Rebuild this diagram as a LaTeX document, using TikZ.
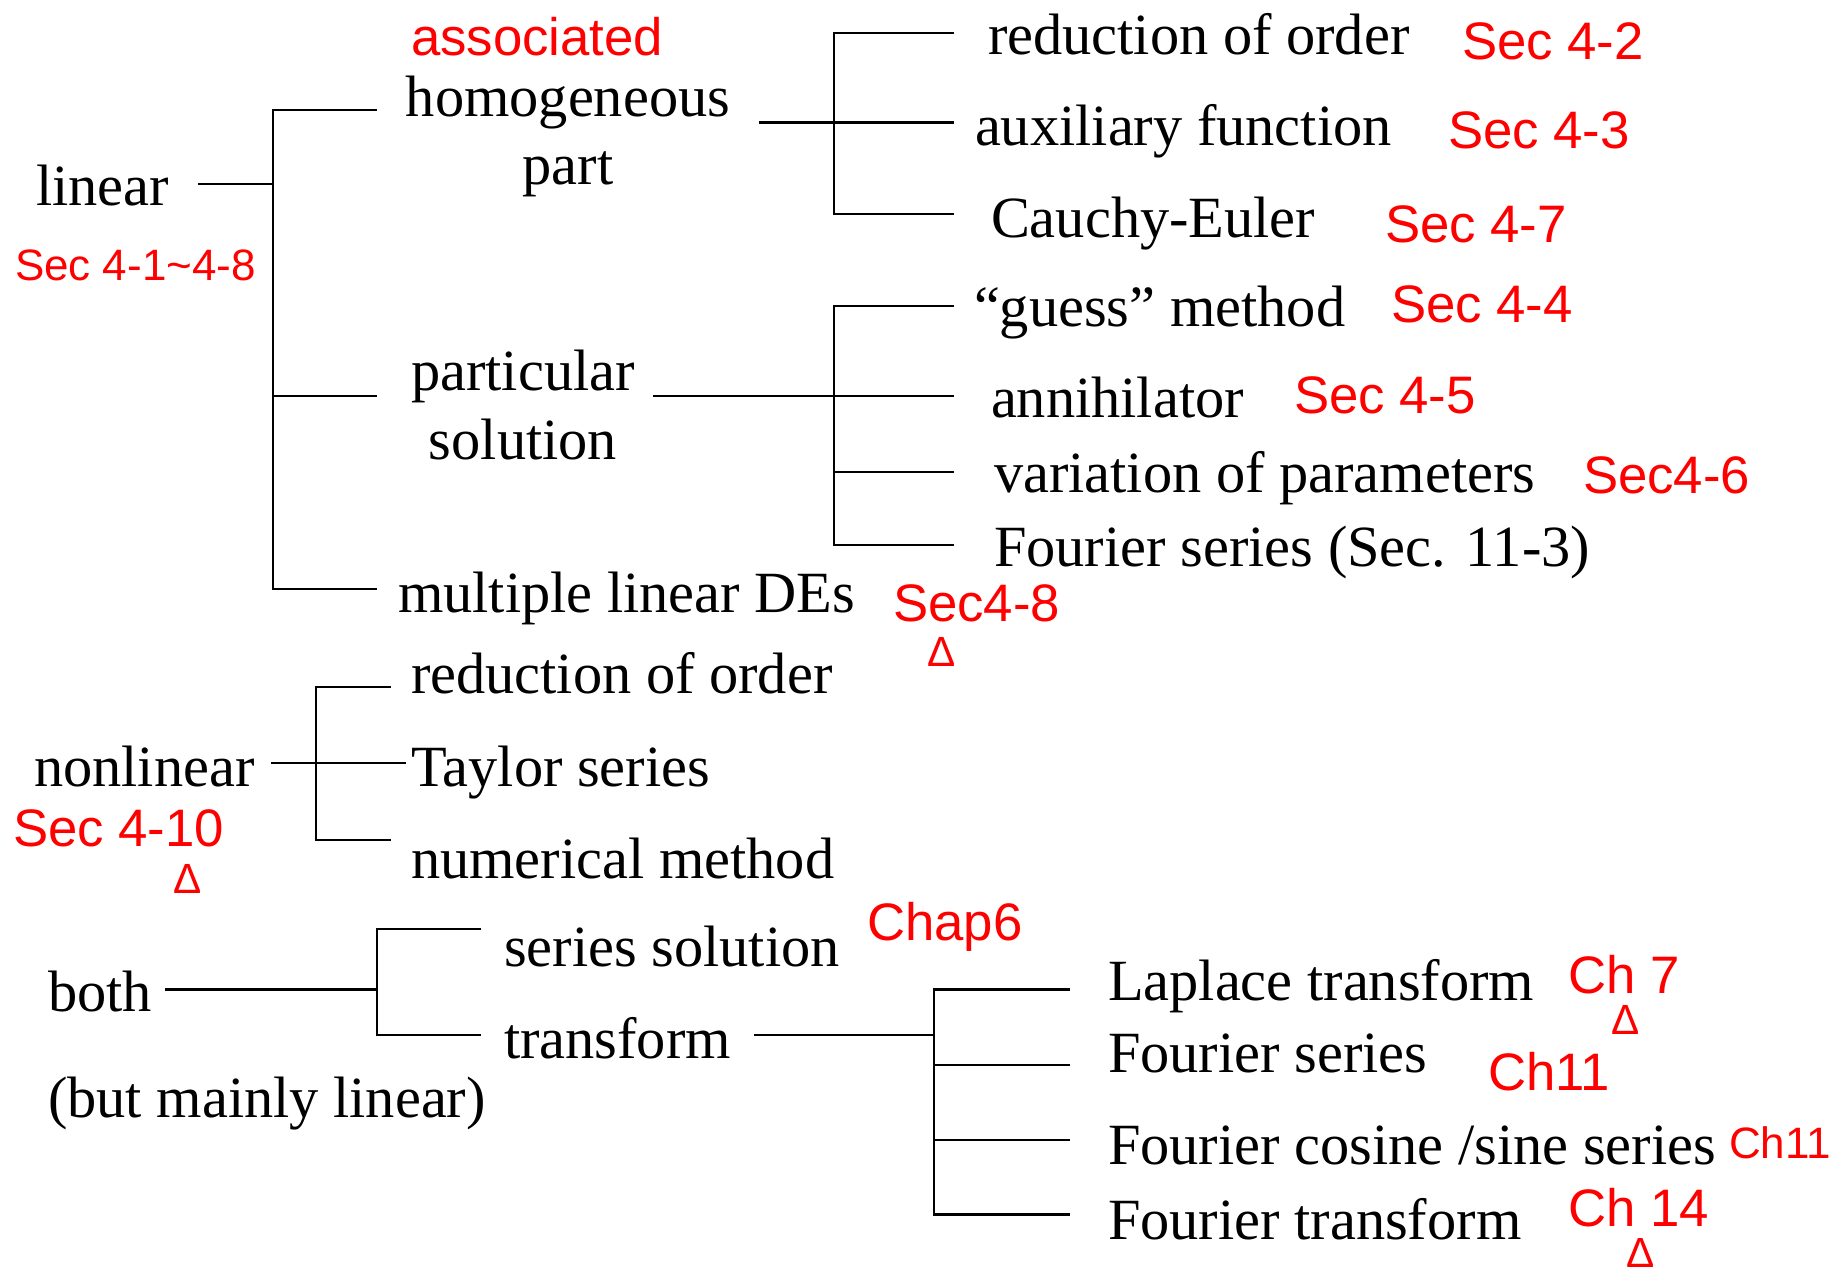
\documentclass[tikz,border=0pt]{standalone}
\usepackage{fontspec}
\setmainfont{Liberation Serif}
\newfontfamily\handfont{Liberation Sans}
\usetikzlibrary{positioning}

\begin{document}
\begin{tikzpicture}
  [x=0.01cm, y=-0.01cm, semithick,
  term/.style={anchor=base west, inner sep=0pt,
    font=\fontsize{16.6}{19.5}\selectfont},
  twoline/.style={term, anchor=base, align=center},
  note/.style={anchor=west, inner sep=0pt, text=red,
    font=\handfont\fontsize{15}{18}\selectfont},
  smallnote/.style={note, font=\handfont\fontsize{12.5}{15}\selectfont},
  tri/.style={note, anchor=center, font=\handfont\fontsize{12}{12}\selectfont}]

  \useasboundingbox (0,0) rectangle (1847,1279);

  % linear
  \node [term] (lin) at (35,206) {linear};
  \node [twoline] (hom) at (568,185) {homogeneous\\part};
  \node [twoline] (par) at (523,459) {particular\\solution};
  \node [term] (mul) at (397,613) {multiple linear DEs};

  \node [term] (red1) at (987,55) {reduction of order};
  \node [term] (aux) at (974,146) {auxiliary function};
  \node [term] (ce) at (990,238) {Cauchy-Euler};

  \node [term] (gm) at (973,327) {``guess'' method};
  \node [term] (ann) at (990,418) {annihilator};
  \node [term] (vp) at (993,492) {variation of parameters};
  \node [term] (fsec) at (993,567) {Fourier series (Sec. 11-3)};

  % nonlinear
  \node [term] (nl) at (33,786) {nonlinear};
  \node [term] (red2) at (410,694) {reduction of order};
  \node [term] (tay) at (410,786) {Taylor series};
  \node [term] (num) at (410,878) {numerical method};

  % both
  \node [term] (both) at (47,1011) {both};
  \node [term] (mainly) at (47,1117) {(but mainly linear)};
  \node [term] (ser) at (503,966) {series solution};
  \node [term] (tra) at (503,1058) {transform};

  \node [term] (lap) at (1107,1000) {Laplace transform};
  \node [term] (fser) at (1107,1072) {Fourier series};
  \node [term] (fcs) at (1107,1164) {Fourier cosine /sine series};
  \node [term] (ftr) at (1107,1239) {Fourier transform};

  % brackets
  \coordinate (lin-a) at (198,184);
  \coordinate (lin-j) at (273,184);
  \coordinate (hom-in) at (377,110);
  \coordinate (par-in) at (377,396);
  \coordinate (mul-in) at (377,589);
  \draw (lin-a) -- (lin-j);
  \draw (hom-in) -| (lin-j) |- (mul-in);
  \draw (lin-j |- par-in) -- (par-in);

  \coordinate (hom-out) at (759,122.5);
  \coordinate (hom-j) at (834,122.5);
  \coordinate (red1-in) at (954,33);
  \coordinate (aux-in) at (954,122.5);
  \coordinate (ce-in) at (954,214);
  \draw (hom-out) -- (aux-in);
  \draw (red1-in) -| (hom-j) |- (ce-in);

  \coordinate (par-out) at (653,396);
  \coordinate (par-j) at (834,396);
  \coordinate (gm-in) at (954,306);
  \coordinate (ann-in) at (954,396);
  \coordinate (vp-in) at (954,472);
  \coordinate (fsec-in) at (954,545);
  \draw (par-out) -- (ann-in);
  \draw (gm-in) -| (par-j) |- (fsec-in);
  \draw (par-j |- vp-in) -- (vp-in);

  \coordinate (nl-a) at (271,763);
  \coordinate (nl-j) at (316,763);
  \coordinate (red2-in) at (391,687);
  \coordinate (tay-in) at (406,763);
  \coordinate (num-in) at (391,840);
  \draw (nl-a) -- (tay-in);
  \draw (red2-in) -| (nl-j) |- (num-in);

  \coordinate (both-a) at (165,989.5);
  \coordinate (both-j) at (377,989.5);
  \coordinate (ser-in) at (481,929);
  \coordinate (tra-in) at (481,1035);
  \draw (both-a) -- (both-j);
  \draw (ser-in) -| (both-j) |- (tra-in);

  \coordinate (tra-out) at (754,1035);
  \coordinate (tra-j) at (934,1035);
  \coordinate (lap-in) at (1070,989.5);
  \coordinate (fser-in) at (1070,1065);
  \coordinate (fcs-in) at (1070,1140);
  \coordinate (ftr-in) at (1070,1214.5);
  \draw (tra-out) -- (tra-j);
  \draw (lap-in) -| (tra-j) |- (ftr-in);
  \draw (tra-j |- fser-in) -- (fser-in);
  \draw (tra-j |- fcs-in) -- (fcs-in);

  % handwritten notes
  \node [note] (n-assoc) at (410,37) {associated};
  \node [smallnote] (n-lin) at (14,265) {Sec 4-1\textasciitilde 4-8};
  \node [note] (n-red1) at (1461,41) {Sec 4-2};
  \node [note] (n-aux) at (1447,130) {Sec 4-3};
  \node [note] (n-ce) at (1384,224) {Sec 4-7};
  \node [note] (n-gm) at (1390,304) {Sec 4-4};
  \node [note] (n-ann) at (1293,395) {Sec 4-5};
  \node [note] (n-vp) at (1582,475) {Sec4-6};
  \node [note] (n-mul) at (892,603) {Sec4-8};
  \node [tri] (t-mul) at (942,652) {Δ};
  \node [note] (n-nl) at (12,828) {Sec 4-10};
  \node [tri] (t-nl) at (188,879) {Δ};
  \node [note] (n-ser) at (866,927) {Chap6};
  \node [note] (n-lap) at (1567,975) {Ch 7};
  \node [tri] (t-lap) at (1626,1020) {Δ};
  \node [note] (n-fser) at (1487,1072) {Ch11};
  \node [smallnote] (n-fcs) at (1728,1143) {Ch11};
  \node [note] (n-ftr) at (1567,1208) {Ch 14};
  \node [tri] (t-ftr) at (1641,1253) {Δ};
\end{tikzpicture}
\end{document}
